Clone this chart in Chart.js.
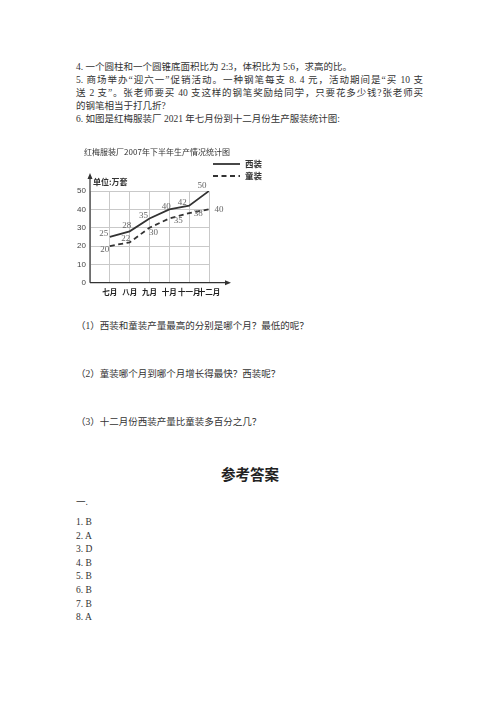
<!DOCTYPE html>
<html lang="zh">
<head>
<meta charset="utf-8">
<script src="https://cdn.jsdelivr.net/npm/chart.js@4/dist/chart.umd.min.js"></script>
<style>
  body { margin: 0; background: #fff; width: 500px; height: 707px; position: relative; overflow: hidden;
         font-family: "Liberation Serif", "Noto Sans CJK SC", serif; color: #333; font-size: 9.5px; }
  .t { position: absolute; left: 76px; line-height: 13px; white-space: nowrap; }
  .j { width: 347px; text-align: justify; text-align-last: justify; }
  #chartBox { position: absolute; left: 60px; top: 140px; width: 210px; height: 165px; }
  h2 { position: absolute; left: 0; width: 500px; top: 464px; margin: 0; text-align: center;
       font-family: "Noto Sans CJK SC", sans-serif; font-size: 14.5px; line-height: 20px; font-weight: bold; color: #222; }
</style>
</head>
<body>
<div class="t" style="top:61px">4. 一个圆柱和一个圆锥底面积比为 2:3，体积比为 5:6，求高的比。</div>
<div class="t j" style="top:74px">5. 商场举办“迎六一”促销活动。一种钢笔每支 8. 4 元，活动期间是“买 10 支</div>
<div class="t j" style="top:87px">送 2 支”。张老师要买 40 支这样的钢笔奖励给同学，只要花多少钱?张老师买</div>
<div class="t" style="top:100px">的钢笔相当于打几折?</div>
<div class="t" style="top:113px">6. 如图是红梅服装厂 2021 年七月份到十二月份生产服装统计图:</div>

<div id="chartBox"><canvas id="chart" width="210" height="165"></canvas></div>

<div class="t" style="top:320px">（1）西装和童装产量最高的分别是哪个月？最低的呢？</div>
<div class="t" style="top:368px">（2）童装哪个月到哪个月增长得最快？西装呢？</div>
<div class="t" style="top:416px">（3）十二月份西装产量比童装多百分之几？</div>

<h2>参考答案</h2>
<div class="t" style="top:496px">一.</div>
<div class="t" style="top:516px; line-height:13.6px">1. B<br>2. A<br>3. D<br>4. B<br>5. B<br>6. B<br>7. B<br>8. A</div>

<script>
// 数据
const months = ['七月', '八月', '九月', '十月', '十一月', '十二月'];
const suitValues = [25, 28, 35, 40, 42, 50];   // 西装
const kidsValues = [20, 22, 30, 35, 38, 40];   // 童装
const seriesNames = ['西装', '童装'];
const chartTitle = '红梅服装厂2007年下半年生产情况统计图';
const unitText = '单位:万套';

// 数值标注的偏移 (像素)
const labelShift = [
    [[-6, -3], [-3, -6], [-6, -3], [-3, -3], [-7, -3], [-7, -5]],
    [[-5, 4], [-4, -4], [4, 5], [9, 2], [9, 1], [10, 0]]
];

const ink = '#333';
const cjk = '"Noto Sans CJK SC", sans-serif';

const decorPlugin = {
    id: 'decor',
    afterDraw(chart) {
        const ctx = chart.ctx;
        const xs = chart.scales.x, ys = chart.scales.y;
        const ox = xs.getPixelForValue(-1), oy = ys.getPixelForValue(0);
        const area = chart.chartArea;
        ctx.save();

        // 坐标轴和箭头
        ctx.strokeStyle = ink;
        ctx.fillStyle = ink;
        ctx.lineWidth = 1.2;
        const topY = area.top - 18, rightX = area.right + 22;
        ctx.beginPath();
        ctx.moveTo(ox, oy); ctx.lineTo(ox, topY + 3);
        ctx.moveTo(ox, oy); ctx.lineTo(rightX - 3, oy);
        ctx.stroke();
        ctx.beginPath();
        ctx.moveTo(ox, topY); ctx.lineTo(ox - 2.5, topY + 6); ctx.lineTo(ox + 2.5, topY + 6); ctx.closePath();
        ctx.moveTo(rightX, oy); ctx.lineTo(rightX - 6, oy - 2.5); ctx.lineTo(rightX - 6, oy + 2.5); ctx.closePath();
        ctx.fill();

        // 标题
        ctx.font = '8px ' + cjk;
        ctx.textAlign = 'center';
        ctx.textBaseline = 'middle';
        ctx.fillStyle = ink;
        ctx.fillText(chartTitle, area.left + 67, area.top - 39);

        // 单位
        ctx.font = 'bold 8px ' + cjk;
        ctx.textAlign = 'left';
        ctx.fillText(unitText, ox + 3, area.top - 9);

        // 图例
        chart.data.datasets.forEach((ds, i) => {
            const ly = area.top - 27 + i * 12;
            const lx = area.right + 4;
            ctx.strokeStyle = ds.borderColor;
            ctx.lineWidth = ds.borderWidth;
            ctx.setLineDash(ds.borderDash || []);
            ctx.beginPath();
            ctx.moveTo(lx, ly); ctx.lineTo(lx + 27, ly);
            ctx.stroke();
            ctx.setLineDash([]);
            ctx.font = 'bold 8.5px ' + cjk;
            ctx.fillStyle = ink;
            ctx.textAlign = 'left';
            ctx.fillText(ds.label, lx + 32, ly);
        });

        // 数值标注
        ctx.font = '9px "Liberation Serif", serif';
        ctx.fillStyle = '#666';
        ctx.textAlign = 'center';
        chart.data.datasets.forEach((ds, i) => {
            chart.getDatasetMeta(i).data.forEach((pt, j) => {
                const s = labelShift[i][j];
                ctx.fillText(String(ds.data[j].y), pt.x + s[0], pt.y + s[1]);
            });
        });
        ctx.restore();
    }
};

new Chart(document.getElementById('chart'), {
    type: 'line',
    data: {
        datasets: [
            {
                label: seriesNames[0],
                data: suitValues.map((v, i) => ({ x: i, y: v })),
                borderColor: ink,
                borderWidth: 1.8,
                pointRadius: 0,
                tension: 0
            },
            {
                label: seriesNames[1],
                data: kidsValues.map((v, i) => ({ x: i, y: v })),
                borderColor: ink,
                borderWidth: 1.8,
                borderDash: [5, 3.5],
                pointRadius: 0,
                tension: 0
            }
        ]
    },
    options: {
        responsive: false,
        animation: false,
        layout: { padding: { left: 0, right: 61, top: 51, bottom: 0 } },
        plugins: { legend: { display: false }, tooltip: { enabled: false } },
        scales: {
            x: {
                type: 'linear',
                min: -1,
                max: 5,
                afterFit: s => { s.height = 22.3; },
                border: { display: false },
                grid: { color: '#c9c9c9', lineWidth: 1, drawTicks: false },
                ticks: {
                    stepSize: 1,
                    autoSkip: false,
                    maxRotation: 0,
                    padding: 5,
                    color: '#222',
                    font: { family: cjk, size: 7.5, weight: 'bold' },
                    callback: v => months[v] ?? ''
                }
            },
            y: {
                min: 0,
                max: 50,
                afterFit: s => { s.width = 30; },
                border: { display: false },
                grid: { color: '#c9c9c9', lineWidth: 1, drawTicks: false },
                ticks: {
                    stepSize: 10,
                    padding: 4,
                    color: '#444',
                    font: { family: '"Liberation Sans", sans-serif', size: 8 }
                }
            }
        }
    },
    plugins: [decorPlugin]
});
</script>
</body>
</html>
